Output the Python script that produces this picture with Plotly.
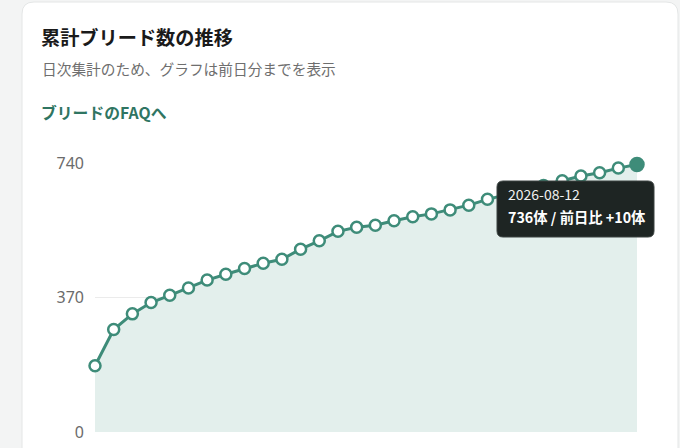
import plotly.graph_objects as go
import pandas as pd

# ---- data ----
dates = pd.date_range("2026-07-14", "2026-08-12", freq="D").strftime("%Y-%m-%d").tolist()
cumulative = [182, 282, 325, 356, 376, 396, 418, 434, 450, 464, 475, 503, 526, 552, 563,
              569, 581, 592, 600, 611, 624, 640, 652, 665, 678, 691, 704, 713, 726, 736]
y_ticks = [0, 370, 740]
title_text = "累計ブリード数の推移"
subtitle_text = "日次集計のため、グラフは前日分までを表示"
link_text = "ブリードのFAQへ"

W, H = 680, 448
FONT = "Noto Sans CJK JP"
TEAL = "#3e8c79"

def px(x):
    return x / W

def py(y):
    return 1 - y / H

n = len(cumulative)
marker_fill = ["white"] * (n - 1) + [TEAL]
marker_size = [11] * (n - 1) + [13]

fig = go.Figure()
fig.add_trace(go.Scatter(
    x=dates, y=cumulative, mode="lines+markers",
    line=dict(color=TEAL, width=3),
    fill="tozeroy", fillcolor="#e3efec",
    marker=dict(size=marker_size, color=marker_fill, opacity=1,
                line=dict(color=TEAL, width=2.5)),
    cliponaxis=False, hoverinfo="skip", showlegend=False,
))

# card background with rounded corners
cx0, cx1, cy0, cy1, r = 22, 678, 2, 460, 12
card_path = (
    f"M {px(cx0)},{py(cy1)} L {px(cx0)},{py(cy0 + r)} "
    f"Q {px(cx0)},{py(cy0)} {px(cx0 + r)},{py(cy0)} "
    f"L {px(cx1 - r)},{py(cy0)} Q {px(cx1)},{py(cy0)} {px(cx1)},{py(cy0 + r)} "
    f"L {px(cx1)},{py(cy1)} Z"
)
shapes = [dict(type="path", xref="paper", yref="paper", path=card_path,
               fillcolor="white", line=dict(color="#e4e6e6", width=1), layer="below")]

# tooltip box
tx0, tx1, ty0, ty1, tr = 497, 654, 181, 237, 6
tip_path = (
    f"M {px(tx0 + tr)},{py(ty0)} L {px(tx1 - tr)},{py(ty0)} "
    f"Q {px(tx1)},{py(ty0)} {px(tx1)},{py(ty0 + tr)} "
    f"L {px(tx1)},{py(ty1 - tr)} Q {px(tx1)},{py(ty1)} {px(tx1 - tr)},{py(ty1)} "
    f"L {px(tx0 + tr)},{py(ty1)} Q {px(tx0)},{py(ty1)} {px(tx0)},{py(ty1 - tr)} "
    f"L {px(tx0)},{py(ty0 + tr)} Q {px(tx0)},{py(ty0)} {px(tx0 + tr)},{py(ty0)} Z"
)
shapes.append(dict(type="path", xref="paper", yref="paper", path=tip_path,
                   fillcolor="#1e2523", line=dict(color="#3a4240", width=1), layer="above"))

diff = cumulative[-1] - cumulative[-2]
annotations = [
    dict(text=f"<b>{title_text}</b>", x=px(39), y=py(37), xref="paper", yref="paper",
         xanchor="left", yanchor="middle", showarrow=False,
         font=dict(family=FONT, size=19.2, color="#1a1a1a")),
    dict(text=subtitle_text, x=px(40), y=py(68), xref="paper", yref="paper",
         xanchor="left", yanchor="middle", showarrow=False,
         font=dict(family=FONT, size=14.7, color="#6e6e6e")),
    dict(text=f"<b>{link_text}</b>", x=px(39), y=py(112), xref="paper", yref="paper",
         xanchor="left", yanchor="middle", showarrow=False,
         font=dict(family=FONT, size=15.8, color="#2f7562")),
    dict(text=dates[-1], x=px(506), y=py(194), xref="paper", yref="paper",
         xanchor="left", yanchor="middle", showarrow=False,
         font=dict(family=FONT, size=14, color="#f0f0f0")),
    dict(text=f"<b>{cumulative[-1]}体 / 前日比 +{diff}体</b>", x=px(506), y=py(216),
         xref="paper", yref="paper", xanchor="left", yanchor="middle", showarrow=False,
         font=dict(family=FONT, size=14.3, color="white")),
]

fig.update_layout(
    width=W, height=H,
    margin=dict(l=0, r=0, t=0, b=0, pad=0, autoexpand=False),
    paper_bgcolor="#f3f4f4", plot_bgcolor="rgba(0,0,0,0)",
    font=dict(family=FONT),
    shapes=shapes, annotations=annotations,
    hovermode=False,
    xaxis=dict(domain=[px(95), px(637)], range=[dates[0], dates[-1]],
               showgrid=False, zeroline=False, showticklabels=False, showline=False,
               fixedrange=True, automargin=False),
    yaxis=dict(domain=[py(432), py(163)], range=[0, 740], tickvals=y_ticks,
               showgrid=True, gridcolor="#ebebeb", gridwidth=1, zeroline=False,
               showline=False, ticks="", ticklabelstandoff=10, automargin=False,
               tickfont=dict(family="Noto Sans", size=16, color="#6b6b6b"), fixedrange=True),
)

fig.write_html("out.html", config={"displayModeBar": False},
               post_script="document.body.style.margin='0';document.body.style.overflow='hidden';")
